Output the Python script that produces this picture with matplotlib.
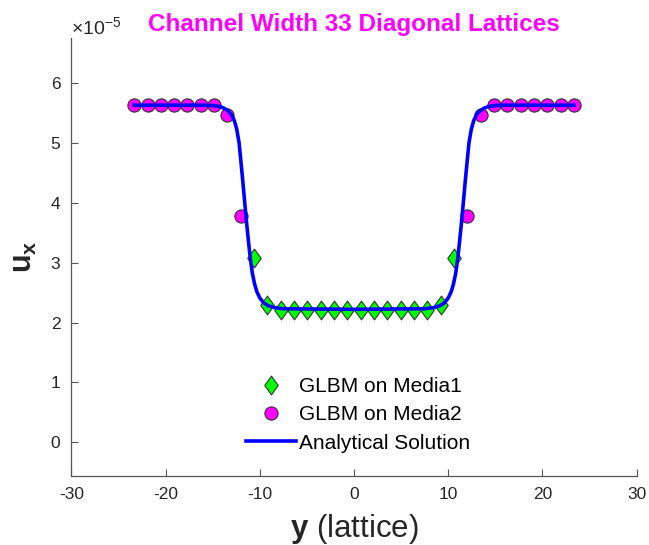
import numpy as np
import matplotlib
matplotlib.use("Agg")
import matplotlib.pyplot as plt
from matplotlib.path import Path

plt.rcParams["font.family"] = ["Liberation Sans", "DejaVu Sans"]
plt.rcParams["mathtext.fontset"] = "custom"
plt.rcParams["mathtext.rm"] = "Liberation Sans"
plt.rcParams["mathtext.bf"] = "Liberation Sans:bold"
plt.rcParams["mathtext.it"] = "Liberation Sans:italic"
plt.rcParams["axes.unicode_minus"] = False

# values in units of 1e-5
# media 1 (diamonds), centre of channel
y_media1 = [-10.61, -9.19, -7.78, -6.36, -4.95, -3.54, -2.12, -0.71,
            0.71, 2.12, 3.54, 4.95, 6.36, 7.78, 9.19, 10.61]
u_media1 = [3.07, 2.29, 2.21, 2.21, 2.21, 2.21, 2.21, 2.21,
            2.21, 2.21, 2.21, 2.21, 2.21, 2.21, 2.29, 3.07]

# media 2 (circles), both sides
y_media2 = [-23.33, -21.92, -20.51, -19.09, -17.68, -16.26, -14.85, -13.44, -12.02,
            12.02, 13.44, 14.85, 16.26, 17.68, 19.09, 20.51, 21.92, 23.33]
u_media2 = [5.63, 5.63, 5.63, 5.63, 5.63, 5.63, 5.63, 5.47, 3.78,
            3.78, 5.47, 5.63, 5.63, 5.63, 5.63, 5.63, 5.63, 5.63]

# analytical curve
y_anal = [-23.33, -16.0, -15.0, -14.3, -13.8, -13.4, -13.0, -12.7, -12.45, -12.2,
          -12.0, -11.8, -11.6, -11.4, -11.2, -11.0, -10.8, -10.55, -10.3, -10.0,
          -9.6, -9.1, -8.5, -7.5, 0.0,
          7.5, 8.5, 9.1, 9.6, 10.0, 10.3, 10.55, 10.8, 11.0, 11.2,
          11.4, 11.6, 11.8, 12.0, 12.2, 12.45, 12.7, 13.0, 13.4, 13.8,
          14.3, 15.0, 16.0, 23.33]
u_anal = [5.63, 5.63, 5.625, 5.61, 5.58, 5.54, 5.47, 5.37, 5.23, 5.00,
          4.68, 4.35, 4.00, 3.66, 3.35, 3.06, 2.83, 2.64, 2.51, 2.41,
          2.33, 2.28, 2.25, 2.23, 2.22,
          2.23, 2.25, 2.28, 2.33, 2.41, 2.51, 2.64, 2.83, 3.06, 3.35,
          3.66, 4.00, 4.35, 4.68, 5.00, 5.23, 5.37, 5.47, 5.54, 5.58,
          5.61, 5.625, 5.63, 5.63]

diamond = Path([(0, -1), (0.72, 0), (0, 1), (-0.72, 0), (0, -1)],
               [Path.MOVETO, Path.LINETO, Path.LINETO, Path.LINETO, Path.CLOSEPOLY])

fig = plt.figure(figsize=(6.49, 5.45), dpi=100)
ax = fig.add_axes([0.110, 0.127, 0.871, 0.803])

ax.plot(y_media1, u_media1, linestyle="none", marker=diamond, markersize=13.5,
        markerfacecolor="#00ff00", markeredgecolor="#333333", markeredgewidth=0.8,
        label="GLBM on Media1", zorder=3)
ax.plot(y_media2, u_media2, linestyle="none", marker="o", markersize=9.5,
        markerfacecolor="#ff00ff", markeredgecolor="#333333", markeredgewidth=0.8,
        label="GLBM on Media2", zorder=3)
ax.plot(y_anal, u_anal, color="#0000ff", linewidth=2.6,
        label="Analytical Solution", zorder=4)

ax.set_xlim(-30, 30)
ax.set_ylim(-0.56, 6.75)
ax.set_xticks(range(-30, 31, 10))
ax.set_yticks(range(0, 7))

for s in ["top", "right"]:
    ax.spines[s].set_visible(False)
for s in ["left", "bottom"]:
    ax.spines[s].set_color("#555555")
    ax.spines[s].set_linewidth(0.9)
ax.tick_params(direction="in", length=5, width=0.8, colors="#555555",
               labelcolor="#262626", labelsize=12.5, pad=8)

ax.text(0.0, 1.0, r"$\times$10$^{-5}$", transform=ax.transAxes,
        fontsize=14, color="#262626", ha="left", va="bottom")

ax.set_title("Channel Width 33 Diagonal Lattices", color="#ff00ff",
             fontsize=17.5, fontweight="bold", pad=5)
ax.set_xlabel(r"$\mathbf{y}$ (lattice)", fontsize=22.5, color="#262626", labelpad=7)
ax.set_ylabel(r"$\mathbf{u_x}$", fontsize=22, color="#262626", labelpad=8)

leg = ax.legend(loc="lower center", bbox_to_anchor=(0.507, 0.01), frameon=False,
                fontsize=15, handlelength=2.4, handletextpad=0.15, labelspacing=0.45)

plt.savefig("out.png", dpi=100)
